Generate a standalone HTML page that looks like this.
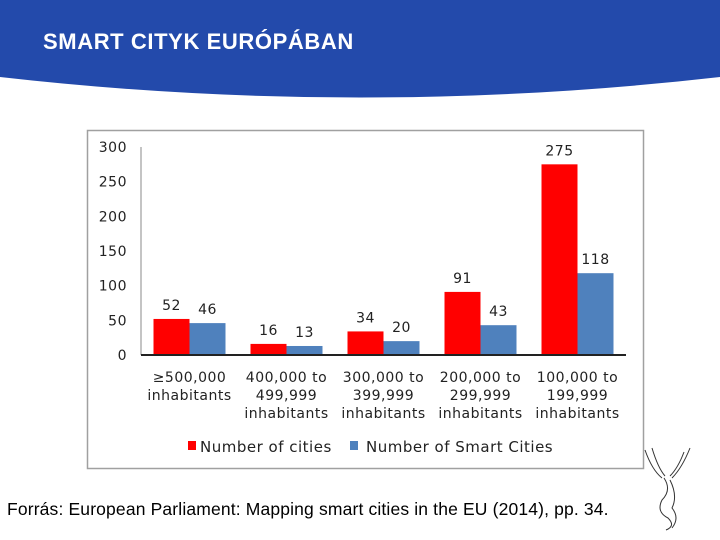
<!DOCTYPE html>
<html><head><meta charset="utf-8"><style>
body{margin:0;width:720px;height:540px;overflow:hidden;background:#fff;font-family:"Liberation Sans",sans-serif;position:relative}
</style></head><body>
<svg width="720" height="540" style="position:absolute;left:0;top:0">
<path d="M0,0 H720 V77 Q360,118 0,77 Z" fill="#234aab"/>
<text x="43" y="49" font-size="22" font-weight="bold" letter-spacing="0.6" fill="#fff" font-family="Liberation Sans, sans-serif">SMART CITYK EURÓPÁBAN</text>
<rect x="87.5" y="130.5" width="556" height="338" fill="#fff" stroke="#a0a0a0" stroke-width="1.5"/>
<g id="chart" font-family="DejaVu Sans, sans-serif" font-size="14" letter-spacing="0.5" fill="#222"></g>
<text x="7" y="515" font-size="17.5" letter-spacing="0.15" fill="#000" font-family="Liberation Sans, sans-serif">Forrás: European Parliament: Mapping smart cities in the EU (2014), pp. 34.</text>
<g stroke="#333" fill="none" stroke-width="1">
<path d="M645,450 Q652,470 662,478 M652,448 Q658,468 665,476 M690,448 Q682,468 672,478 M684,452 Q678,468 670,476"/>
<path d="M664,478 Q672,490 662,500 Q656,512 668,518 Q676,526 666,530 M670,480 Q678,496 672,508 Q680,518 672,528"/>
</g>
</svg>
<script>
const categories=[["≥500,000","inhabitants"],["400,000 to","499,999","inhabitants"],["300,000 to","399,999","inhabitants"],["200,000 to","299,999","inhabitants"],["100,000 to","199,999","inhabitants"]];
const cities=[52,16,34,91,275];
const smartCities=[46,13,20,43,118];
const ticks=[0,50,100,150,200,250,300];
const NS="http://www.w3.org/2000/svg";
const g=document.getElementById('chart');
const x0=141,x1=626,y0=355,yTop=147,maxV=300;
const gw=(x1-x0)/categories.length,bw=36;
function y(v){return y0-(v/maxV)*(y0-yTop);}
function mk(t,a,txt){const e=document.createElementNS(NS,t);for(const k in a)e.setAttribute(k,a[k]);if(txt!==undefined)e.textContent=txt;g.appendChild(e);return e;}
ticks.forEach(t=>{const e=mk('text',{x:127,y:y(t)+5,'text-anchor':'end'},t);

});
let ax=mk('line',{x1:x0,y1:yTop,x2:x0,y2:y0,stroke:'#888','stroke-width':1});


categories.forEach((c,i)=>{
 const gs=x0+i*gw,cx=gs+gw/2;
 const r=mk('rect',{x:cx-bw,y:y(cities[i]),width:bw,height:y0-y(cities[i]),fill:'#ff0000'});
 
 
 const b=mk('rect',{x:cx,y:y(smartCities[i]),width:bw,height:y0-y(smartCities[i]),fill:'#4f81bd'});
 
 
 const l1=mk('text',{x:cx-bw/2,y:y(cities[i])-9,'text-anchor':'middle'},cities[i]);
 
 
 const l2=mk('text',{x:cx+bw/2,y:y(smartCities[i])-9,'text-anchor':'middle'},smartCities[i]);
 
 
 c.forEach((line,j)=>{const t=mk('text',{x:cx,y:382+j*18,'text-anchor':'middle'},line);
 
 });
});
let bl=mk('line',{x1:x0,y1:y0,x2:x1,y2:y0,stroke:'#222','stroke-width':2});


let lg1=mk('rect',{x:188,y:441,width:8,height:9,fill:'#ff0000'});


let lt1=mk('text',{x:200,y:452,'font-size':15},'Number of cities');


let lg2=mk('rect',{x:350,y:441,width:8,height:9,fill:'#4f81bd'});


let lt2=mk('text',{x:366,y:452,'font-size':15},'Number of Smart Cities');


</script>
</body></html>
